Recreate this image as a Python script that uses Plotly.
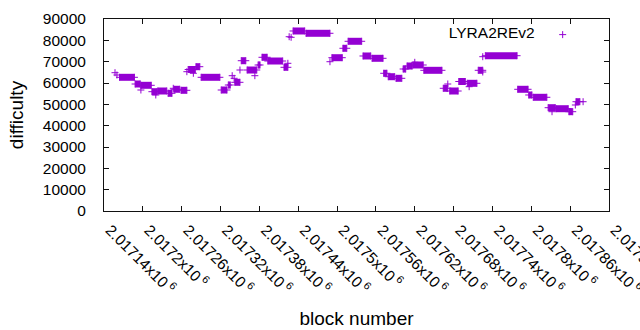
import plotly.graph_objects as go

# Runs of consecutive blocks sharing the same difficulty (first block, last block, difficulty)
run_start = [2017164, 2017188, 2017197, 2017214, 2017223, 2017239, 2017248, 2017259,
             2017270, 2017282, 2017290, 2017321, 2017332, 2017342, 2017352, 2017361,
             2017378, 2017384, 2017393, 2017418, 2017432, 2017452, 2017492, 2017509,
             2017517, 2017540, 2017554, 2017572, 2017579, 2017591, 2017602, 2017608,
             2017617, 2017634, 2017664, 2017674, 2017688, 2017701, 2017718, 2017729,
             2017779, 2017796, 2017803, 2017826, 2017838, 2017858, 2017869]
run_end = [2017187, 2017196, 2017213, 2017222, 2017237, 2017245, 2017257, 2017268,
           2017281, 2017288, 2017319, 2017330, 2017335, 2017350, 2017359, 2017376,
           2017381, 2017392, 2017416, 2017424, 2017450, 2017489, 2017508, 2017515,
           2017538, 2017552, 2017571, 2017577, 2017589, 2017600, 2017606, 2017616,
           2017633, 2017662, 2017671, 2017687, 2017698, 2017716, 2017725, 2017778,
           2017795, 2017801, 2017824, 2017837, 2017857, 2017864, 2017875]
run_difficulty = [62670, 59530, 58920, 55920, 56250, 55170, 57050, 56580,
                  66330, 67640, 62670, 56720, 59060, 60330, 70450, 66090,
                  68440, 72050, 70310, 67360, 84380, 83300, 71860, 76270,
                  79550, 72660, 71580, 64550, 62950, 62200, 66560, 67970,
                  68440, 65950, 57520, 56250, 60700, 59860, 65950, 72800,
                  57050, 54380, 53300, 48420, 47950, 46550, 51230]

# Isolated blocks
point_block = [2017157, 2017160, 2017197, 2017220, 2017247, 2017268, 2017278, 2017338,
               2017341, 2017350, 2017373, 2017424, 2017426, 2017429, 2017489, 2017620,
               2017671, 2017704, 2017725, 2017725, 2017832, 2017868, 2017880]
point_difficulty = [64830, 63750, 56720, 54380, 57520, 65300, 64550, 63420,
                    62200, 66090, 63420, 69230, 81700, 81420, 69980, 69700,
                    59530, 58270, 65160, 72330, 46550, 49690, 51230]

tick_values = [2017140, 2017200, 2017260, 2017320, 2017380, 2017440, 2017500,
               2017560, 2017620, 2017680, 2017740, 2017800, 2017860, 2017920]
tick_labels = ["2.01714", "2.0172", "2.01726", "2.01732", "2.01738", "2.01744", "2.0175",
               "2.01756", "2.01762", "2.01768", "2.01774", "2.0178", "2.01786", "2.01792"]
y_ticks = [0, 10000, 20000, 30000, 40000, 50000, 60000, 70000, 80000, 90000]

COLOR = "#9400D3"
FRAME = "#111111"
FONT = "Liberation Sans, Arial, sans-serif"
FS = 15.5

line_x, line_y = [], []
for s, e, d in zip(run_start, run_end, run_difficulty):
    line_x += [s, e, None]
    line_y += [d, d, None]

mark_x = point_block + run_start + run_end
mark_y = point_difficulty + run_difficulty + run_difficulty

fig = go.Figure()
fig.add_trace(go.Scatter(
    x=line_x, y=line_y, mode="lines", name="LYRA2REv2",
    line=dict(color=COLOR, width=7), showlegend=False, hoverinfo="skip"))
fig.add_trace(go.Scatter(
    x=mark_x, y=mark_y, mode="markers", name="",
    marker=dict(symbol="cross-thin", size=5, color=COLOR,
                line=dict(color=COLOR, width=1)),
    showlegend=True))

fig.update_layout(
    template="none",
    width=640, height=330,
    margin=dict(l=104, r=31, t=19, b=119),
    paper_bgcolor="white", plot_bgcolor="white",
    font=dict(family=FONT, size=FS, color="black"),
    showlegend=True,
    legend=dict(x=0.958, y=1.005, xanchor="right", yanchor="top",
                bgcolor="rgba(0,0,0,0)", borderwidth=0,
                title=dict(text="LYRA2REv2", side="left",
                           font=dict(family=FONT, size=FS, color="black")),
                font=dict(family=FONT, size=FS), itemwidth=30),
    xaxis=dict(
        range=[2017140, 2017920], tickmode="array", tickvals=tick_values,
        ticktext=[t + "x10<sup> 6</sup>" for t in tick_labels],
        tickangle=45, ticks="inside", ticklen=5, tickcolor=FRAME, tickwidth=1,
        showline=True, linecolor=FRAME, linewidth=1, mirror="allticks",
        showgrid=False, zeroline=False, ticklabelstandoff=3, ticklabelshift=6,
        ticklabeloverflow="allow", automargin=False,
        title=dict(text="block number", standoff=15),
        tickfont=dict(family=FONT, size=FS)),
    yaxis=dict(
        range=[0, 90000], tickmode="array",
        tickvals=y_ticks, ticktext=[str(v) for v in y_ticks],
        ticks="inside", ticklen=5, tickcolor=FRAME, tickwidth=1,
        showline=True, linecolor=FRAME, linewidth=1, mirror="allticks",
        showgrid=False, zeroline=False, ticklabelstandoff=14,
        automargin=False,
        title=dict(text="difficulty", standoff=14),
        tickfont=dict(family=FONT, size=FS)),
)

fig.write_html("out.html", config={"displayModeBar": False},
               post_script="document.body.style.margin='0';document.body.style.overflow='hidden';")
